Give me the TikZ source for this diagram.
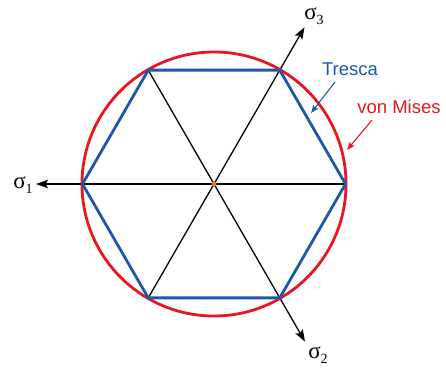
\documentclass[tikz,border=0pt]{standalone}
\usepackage{fontspec}
\setmainfont{Liberation Serif}
\newfontfamily\lsans{Liberation Sans}
\usetikzlibrary{arrows.meta}
\definecolor{tblue}{RGB}{28,88,168}
\definecolor{vred}{RGB}{232,22,30}
\definecolor{cdot}{RGB}{235,130,20}
\newcommand{\sigsub}[1]{σ\raisebox{-0.45ex}{\fontsize{14}{16}\selectfont #1}}
\begin{document}
\begin{tikzpicture}[x=1pt,y=-1pt,
  axis/.style={black,line width=1.3pt,-{Stealth[length=12pt,width=8.5pt,inset=2.5pt]}},
  hexline/.style={tblue,line width=2.8pt,line join=miter},
  mises/.style={vred,line width=2.8pt},
  lbl/.style={font=\fontsize{18.5}{22}\selectfont\lsans,inner sep=0pt},
  sig/.style={font=\fontsize{23}{26}\selectfont,inner sep=0pt},
  pointer/.style={line width=1.1pt,-{Stealth[length=8pt,width=6pt,inset=1.5pt]}}]
\useasboundingbox (0,0) rectangle (446,367);
\coordinate (O) at (214,184);
\path (O) ++(0:131.5) coordinate (v0)
      (O) ++(-60:131.5) coordinate (v1)
      (O) ++(-120:131.5) coordinate (v2)
      (O) ++(180:131.5) coordinate (v3)
      (O) ++(120:131.5) coordinate (v4)
      (O) ++(60:131.5) coordinate (v5);
\path (O) ++(180:178) coordinate (a1)
      (O) ++(60:182) coordinate (a2)
      (O) ++(-60:181) coordinate (a3);
% diagonals / axes
\draw[axis] (v0) -- (a1);
\draw[axis] (v2) -- (a2);
\draw[axis] (v4) -- (a3);
% von Mises circle
\draw[mises] (O) circle[radius=132];
% Tresca hexagon
\draw[hexline] (v0) -- (v1) -- (v2) -- (v3) -- (v4) -- (v5) -- cycle;
% centre dot
\node[circle,fill=cdot,draw=cdot!70!black,line width=0.3pt,inner sep=0pt,minimum size=5pt] (c) at (O) {};
% axis labels
\node[sig] (s1) at (23,185) {\sigsub{1}};
\node[sig] (s3) at (314,16) {\sigsub{3}};
\node[sig] (s2) at (318,355) {\sigsub{2}};
% Tresca / von Mises labels
\node[lbl,text=tblue] (tr) at (350,69) {Tresca};
\node[lbl,text=vred] (vm) at (399,107) {von Mises};
\coordinate (tt) at (311,113);
\coordinate (vt) at (347,150);
\draw[pointer,tblue] (335,82) -- (tt);
\draw[pointer,vred] (372,120) -- (vt);
\end{tikzpicture}
\end{document}
